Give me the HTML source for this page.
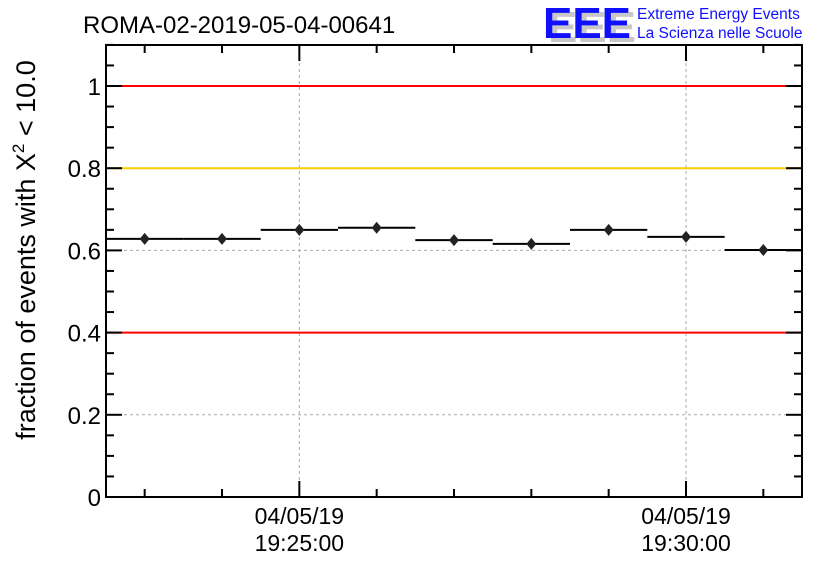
<!DOCTYPE html>
<html><head><meta charset="utf-8"><style>
html,body{margin:0;padding:0;background:#fff;}
svg{display:block;font-family:"Liberation Sans",sans-serif;}
</style></head><body>
<svg id="chart" width="836" height="572" viewBox="0 0 836 572">
<text x="83" y="33" font-size="24">ROMA-02-2019-05-04-00641</text>
<g>
<text x="548" y="42" font-size="44" font-weight="bold" fill="#c8c8c8" textLength="88" lengthAdjust="spacingAndGlyphs">EEE</text>
<text x="543" y="38" font-size="44" font-weight="bold" fill="#1010ff" textLength="88" lengthAdjust="spacingAndGlyphs">EEE</text>
<text x="637" y="19" font-size="15.5" fill="#1010ff">Extreme Energy Events</text>
<text x="637" y="38" font-size="15.5" fill="#1010ff">La Scienza nelle Scuole</text>
</g>
<g id="grid"></g>
<g id="refs"></g>
<g id="axes"></g>
<g id="marks"></g>
<text transform="translate(35,250) rotate(-90)" text-anchor="middle" font-size="27">fraction of events with Χ<tspan dy="-11" font-size="17">2</tspan><tspan dy="11"> &lt; 10.0</tspan></text>
</svg>
<script>
const binLabels = ["19:23","19:24","19:25","19:26","19:27","19:28","19:29","19:30","19:31"];
const fractions = [0.628,0.628,0.650,0.655,0.625,0.616,0.650,0.633,0.601];
const errors = [0.006,0.006,0.006,0.006,0.006,0.006,0.006,0.006,0.006];
const yTicks = [0,0.2,0.4,0.6,0.8,1];
const yTickLabels = ["0","0.2","0.4","0.6","0.8","1"];
const refLines = [1.0,0.8,0.4];
const refColors = ["#ff0000","#ffcc00","#ff0000"];
const xMajorBins = [2,7];
const xMajorLabels = [["04/05/19","19:25:00"],["04/05/19","19:30:00"]];

const L=106,R=802,T=45,B=497;
const ns="http://www.w3.org/2000/svg";
const bw=(R-L)/fractions.length;
const xs=i=>L+bw*(i+0.5);
const ys=v=>B-v*(B-86);
function mk(tag,attrs,parent){const e=document.createElementNS(ns,tag);for(const k in attrs)e.setAttribute(k,attrs[k]);document.getElementById(parent).appendChild(e);return e;}

yTicks.forEach(v=>{ if(v>0 && v<1){
 const g=mk('line',{x1:L,x2:R,y1:ys(v),y2:ys(v),stroke:'#aaa','stroke-dasharray':'3,3','stroke-width':1},'grid');
 
 }});
xMajorBins.forEach(i=>{
 const g=mk('line',{x1:xs(i),x2:xs(i),y1:T,y2:B,stroke:'#aaa','stroke-dasharray':'3,3','stroke-width':1},'grid');
 
 });
refLines.forEach((v,i)=>{
 const l=mk('line',{x1:L,x2:R,y1:ys(v),y2:ys(v),stroke:refColors[i],'stroke-width':2},'refs');
 
 });
const f=mk('rect',{x:L,y:T,width:R-L,height:B-T,fill:'none',stroke:'#000','stroke-width':2},'axes');


for(let k=0;k<=22;k++){const v=k*0.05;const major=k%4===0;const len=major?16:8;
 mk('line',{x1:L,x2:L+len,y1:ys(v),y2:ys(v),stroke:'#000','stroke-width':2},'axes');
 mk('line',{x1:R-len,x2:R,y1:ys(v),y2:ys(v),stroke:'#000','stroke-width':2},'axes');}
yTicks.forEach((v,i)=>{
 const t=mk('text',{x:L-5,y:ys(v)+9,'text-anchor':'end','font-size':24},'axes');
 t.textContent=yTickLabels[i];
 
 });
binLabels.forEach((b,i)=>{const major=xMajorBins.includes(i);const len=major?16:8;
 mk('line',{x1:xs(i),x2:xs(i),y1:B,y2:B-len,stroke:'#000','stroke-width':2},'axes');
 mk('line',{x1:xs(i),x2:xs(i),y1:T,y2:T+len,stroke:'#000','stroke-width':2},'axes');});
xMajorBins.forEach((bi,j)=>{
 xMajorLabels[j].forEach((s,r)=>{
  const t=mk('text',{x:xs(bi),y:524+r*27,'text-anchor':'middle','font-size':23},'axes');
  t.textContent=s;
  
  });});
fractions.forEach((v,i)=>{
 const h=mk('line',{x1:L+bw*i,x2:L+bw*(i+1),y1:ys(v),y2:ys(v),stroke:'#000','stroke-width':2},'marks');
 
 
 const e=mk('line',{x1:xs(i),x2:xs(i),y1:ys(v+errors[i]),y2:ys(v-errors[i]),stroke:'#000','stroke-width':2},'marks');
 
 
 const x=xs(i),y=ys(v);
 const p=mk('polygon',{points:`${x},${y-6} ${x+5},${y} ${x},${y+6} ${x-5},${y}`,fill:'#222'},'marks');
 
 });
</script>
</body></html>
